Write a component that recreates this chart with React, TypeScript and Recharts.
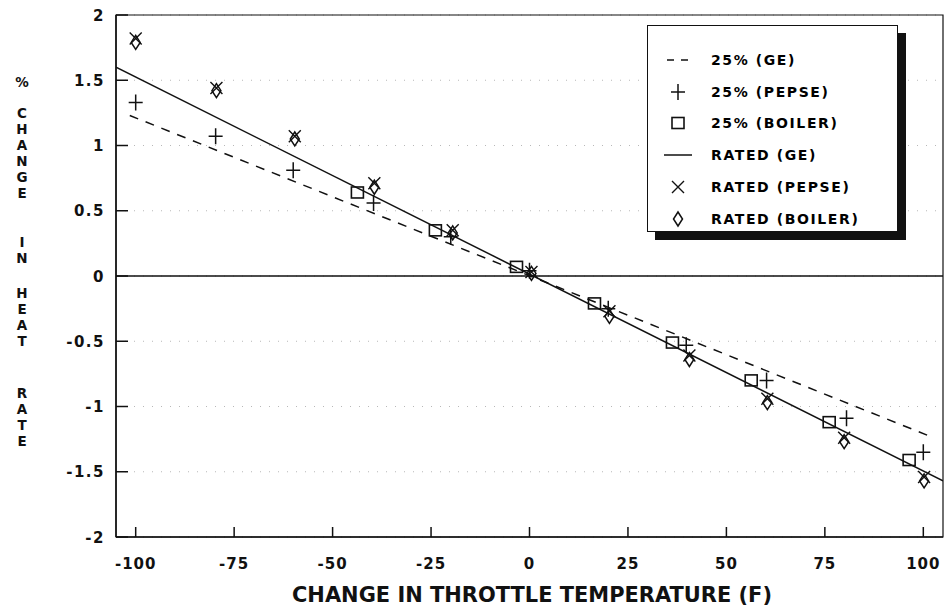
import React from 'react';
import {
  ComposedChart,
  Line,
  Scatter,
  XAxis,
  YAxis,
  CartesianGrid,
  ReferenceLine,
  ReferenceArea,
  Legend,
  Label,
} from 'recharts';

// ---------- data ----------
const xTicks = [-100, -75, -50, -25, 0, 25, 50, 75, 100];
const yTicks = [2, 1.5, 1, 0.5, 0, -0.5, -1, -1.5, -2];

const ge25Line = [
  { x: -101.5, y: 1.23 },
  { x: 101, y: -1.22 },
];
const geRatedLine = [
  { x: -105, y: 1.6 },
  { x: 105, y: -1.57 },
];
const pepse25 = [
  { x: -100, y: 1.33 },
  { x: -79.7, y: 1.07 },
  { x: -60, y: 0.81 },
  { x: -39.6, y: 0.56 },
  { x: -20, y: 0.3 },
  { x: 0, y: 0.04 },
  { x: 20, y: -0.25 },
  { x: 39.8, y: -0.53 },
  { x: 60.2, y: -0.8 },
  { x: 80.5, y: -1.09 },
  { x: 100, y: -1.35 },
];
const boiler25 = [
  { x: -43.7, y: 0.64 },
  { x: -23.9, y: 0.35 },
  { x: -3.3, y: 0.07 },
  { x: 16.5, y: -0.21 },
  { x: 36.3, y: -0.51 },
  { x: 56.3, y: -0.8 },
  { x: 76.1, y: -1.12 },
  { x: 96.4, y: -1.41 },
];
const pepseRated = [
  { x: -100, y: 1.82 },
  { x: -79.5, y: 1.44 },
  { x: -59.6, y: 1.07 },
  { x: -39.4, y: 0.71 },
  { x: -19.5, y: 0.35 },
  { x: 0.5, y: 0.03 },
  { x: 20.3, y: -0.27 },
  { x: 40.6, y: -0.61 },
  { x: 60.4, y: -0.94 },
  { x: 79.9, y: -1.24 },
  { x: 100.2, y: -1.54 },
];
const boilerRated = [
  { x: -100, y: 1.79 },
  { x: -79.5, y: 1.42 },
  { x: -59.6, y: 1.05 },
  { x: -39.4, y: 0.68 },
  { x: -19.5, y: 0.33 },
  { x: 0.5, y: 0.02 },
  { x: 20.3, y: -0.31 },
  { x: 40.6, y: -0.64 },
  { x: 60.4, y: -0.97 },
  { x: 79.9, y: -1.27 },
  { x: 100.2, y: -1.57 },
];

const legendItems = [
  { label: '25% (GE)', kind: 'dash' },
  { label: '25% (PEPSE)', kind: 'plus' },
  { label: '25% (BOILER)', kind: 'square' },
  { label: 'RATED (GE)', kind: 'line' },
  { label: 'RATED (PEPSE)', kind: 'cross' },
  { label: 'RATED (BOILER)', kind: 'diamond' },
];

const xTitle = 'CHANGE IN THROTTLE TEMPERATURE (F)';
const yTitleWords = ['%', 'CHANGE', 'IN', 'HEAT', 'RATE'];
const yTitleWordTops = [82, 113, 242, 293, 393];

// ---------- styles ----------
const FONT = '"DejaVu Sans", "Liberation Sans", sans-serif';
const INK = '#111';

// ---------- marker shapes ----------
const Plus = ({ cx, cy }: any) => (
  <path d={`M${cx - 7},${cy} H${cx + 7} M${cx},${cy - 8} V${cy + 8}`} stroke={INK} strokeWidth={1.5} fill="none" />
);
const Cross = ({ cx, cy }: any) => (
  <path d={`M${cx - 6},${cy - 6} L${cx + 6},${cy + 6} M${cx + 6},${cy - 6} L${cx - 6},${cy + 6}`} stroke={INK} strokeWidth={1.4} fill="none" />
);
const Square = ({ cx, cy }: any) => (
  <rect x={cx - 6} y={cy - 5.5} width={12} height={11} stroke={INK} strokeWidth={1.6} fill="none" />
);
const Diamond = ({ cx, cy }: any) => (
  <path d={`M${cx},${cy - 7} L${cx + 4.5},${cy} L${cx},${cy + 7} L${cx - 4.5},${cy} Z`} stroke={INK} strokeWidth={1.5} fill="none" />
);

const LegendIcon = ({ kind }: { kind: string }) => {
  const cx = 15;
  const cy = 10;
  return (
    <svg width={30} height={20} style={{ display: 'block' }}>
      {kind === 'dash' && (
        <path d="M4,10 H11 M18,10 H25" stroke={INK} strokeWidth={1.5} />
      )}
      {kind === 'line' && <path d="M1,10 H29" stroke={INK} strokeWidth={1.5} />}
      {kind === 'plus' && <Plus cx={cx} cy={cy} />}
      {kind === 'square' && <Square cx={cx} cy={cy} />}
      {kind === 'cross' && <Cross cx={cx} cy={cy} />}
      {kind === 'diamond' && <Diamond cx={cx} cy={cy} />}
    </svg>
  );
};

const LegendBox = () => (
  <div
    style={{
      width: 251,
      height: 207,
      boxSizing: 'border-box',
      border: `1.5px solid ${INK}`,
      boxShadow: `8px 8px 0 ${INK}`,
      background: '#fff',
      paddingTop: 18,
      paddingLeft: 15,
    }}
  >
    {legendItems.map((it) => (
      <div key={it.label} style={{ display: 'flex', alignItems: 'center', height: 31.8 }}>
        <LegendIcon kind={it.kind} />
        <span
          style={{
            marginLeft: 18,
            fontFamily: FONT,
            fontWeight: 900,
            fontSize: 14,
            letterSpacing: 1.6,
            color: '#000',
            lineHeight: '20px',
          }}
        >
          {it.label}
        </span>
      </div>
    ))}
  </div>
);

// ---------- ticks ----------
const XTick = ({ x, y, payload }: any) => (
  <g>
    <line x1={x} x2={x} y1={y} y2={y - 10} stroke={INK} strokeWidth={1.5} />
    <text x={x} y={y + 32} textAnchor="middle" fontFamily={FONT} fontWeight="bold" fontSize={15} letterSpacing={1} fill={INK}>
      {payload.value}
    </text>
  </g>
);
const YTick = ({ x, y, payload }: any) => (
  <g>
    <line x1={x} x2={x + 12} y1={y} y2={y} stroke={INK} strokeWidth={1.5} />
    <text x={x - 11} y={y + 5.5} textAnchor="end" fontFamily={FONT} fontWeight="bold" fontSize={15} letterSpacing={1.5} fill={INK}>
      {payload.value}
    </text>
  </g>
);

const YTitle = () => (
  <g>
    {yTitleWords.map((w, wi) =>
      w.split('').map((ch, ci) => (
        <text
          key={`${wi}-${ci}`}
          x={22}
          y={yTitleWordTops[wi] + ci * 16 + 5}
          textAnchor="middle"
          fontFamily={FONT}
          fontWeight="bold"
          fontSize={13.5}
          fill={INK}
        >
          {ch}
        </text>
      ))
    )}
  </g>
);

const XTitle = () => (
  <text
    x={532}
    y={602}
    textAnchor="middle"
    fontFamily={FONT}
    fontWeight="bold"
    fontSize={21}
    textLength={480}
    lengthAdjust="spacingAndGlyphs"
    fill={INK}
  >
    {xTitle}
  </text>
);

export default function App() {
  return (
    <div style={{ position: 'absolute', left: 0, top: 0, background: '#fff' }}>
      <ComposedChart
        width={945}
        height={608}
        margin={{ top: 15, right: 2, bottom: 30, left: 16 }}
      >
        <CartesianGrid horizontal vertical={false} stroke="#b8b8b8" strokeDasharray="1 8" />
        <XAxis
          dataKey="x"
          type="number"
          domain={[-105, 105]}
          ticks={xTicks}
          allowDataOverflow
          height={41}
          tickSize={0}
          tickMargin={0}
          tick={<XTick />}
          axisLine={{ stroke: INK, strokeWidth: 1.5 }}
          tickLine={false}
          interval={0}
        >
          <Label content={<XTitle />} />
        </XAxis>
        <YAxis
          dataKey="y"
          type="number"
          domain={[-2, 2]}
          ticks={yTicks}
          allowDataOverflow
          width={100}
          tickSize={0}
          tickMargin={0}
          tick={<YTick />}
          axisLine={{ stroke: INK, strokeWidth: 1.5 }}
          tickLine={false}
          interval={0}
        >
          <Label content={<YTitle />} />
        </YAxis>
        <ReferenceArea x1={-105} x2={105} y1={-2} y2={2} fill="none" stroke={INK} strokeWidth={1.2} />
        <ReferenceLine y={0} stroke={INK} strokeWidth={1.5} />
        <Line
          data={ge25Line}
          dataKey="y"
          stroke={INK}
          strokeWidth={1.5}
          strokeDasharray="9 8"
          dot={false}
          activeDot={false}
          isAnimationActive={false}
          legendType="none"
        />
        <Line
          data={geRatedLine}
          dataKey="y"
          stroke={INK}
          strokeWidth={1.5}
          dot={false}
          activeDot={false}
          isAnimationActive={false}
          legendType="none"
        />
        <Scatter data={boiler25} dataKey="y" shape={(p: any) => <Square cx={p.cx} cy={p.cy} />} isAnimationActive={false} legendType="none" />
        <Scatter data={pepse25} dataKey="y" shape={(p: any) => <Plus cx={p.cx} cy={p.cy} />} isAnimationActive={false} legendType="none" />
        <Scatter data={boilerRated} dataKey="y" shape={(p: any) => <Diamond cx={p.cx} cy={p.cy} />} isAnimationActive={false} legendType="none" />
        <Scatter data={pepseRated} dataKey="y" shape={(p: any) => <Cross cx={p.cx} cy={p.cy} />} isAnimationActive={false} legendType="none" />
        <Legend
          layout="vertical"
          align="center"
          verticalAlign="middle"
          content={() => <LegendBox />}
          wrapperStyle={{ left: 647, top: 25, width: 251, height: 207, right: 'auto', bottom: 'auto' }}
        />
      </ComposedChart>
    </div>
  );
}
